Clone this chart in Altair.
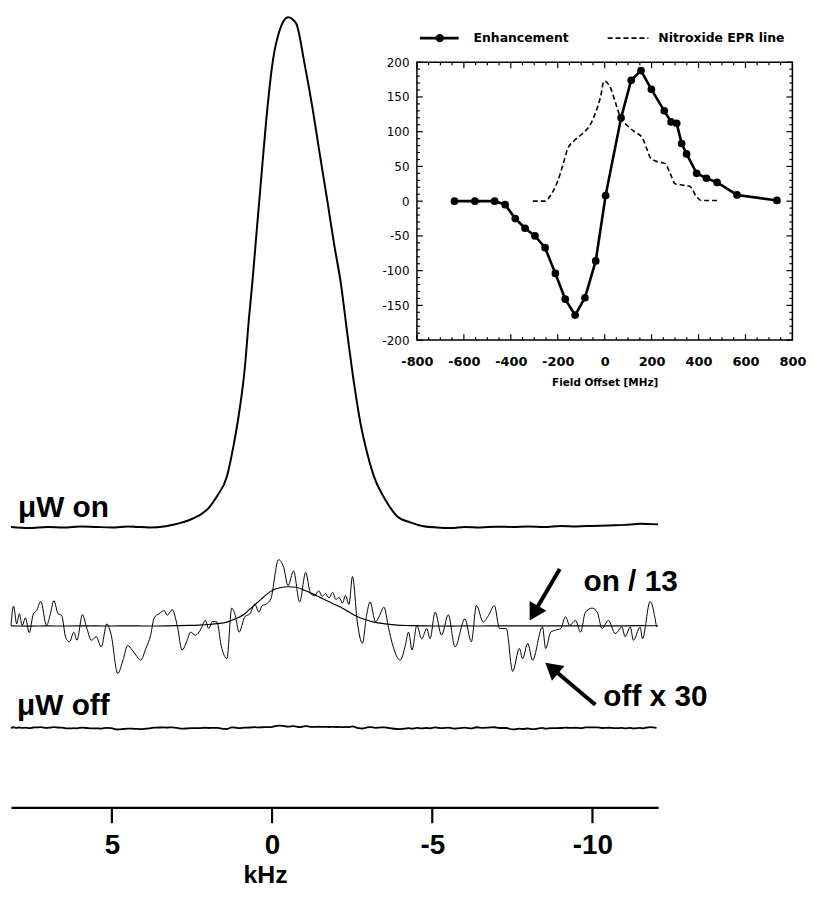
import altair as alt
import pandas as pd

# ---------------- data ----------------
# main spectrum (microwave on), frequency in kHz, intensity with peak = 100
on_khz = [8.15, 7.6, 7.0, 6.5, 6.0, 5.5, 5.0, 4.5, 4.2, 3.84, 3.32, 2.91, 2.60, 2.29,
          1.98, 1.72, 1.41, 1.21, 1.05, 0.85, 0.72, 0.62, 0.49, 0.33, 0.18, -0.03,
          -0.24, -0.50, -0.75, -1.01, -1.27, -1.48, -1.73, -1.94, -2.15, -2.35, -2.56,
          -2.76, -2.92, -3.18, -3.54, -3.90, -4.31, -4.73, -5.14, -5.6, -6.0, -6.5,
          -7.0, -7.5, -8.0, -8.5, -9.0, -9.5, -10.0, -10.5, -11.0, -11.5, -12.05]
on_int = [0.1, -0.1, 0.1, 0.0, 0.2, 0.1, 0.0, 0.2, 0.1, 0.0, 0.25, 0.8, 1.4, 2.3,
          3.8, 6.1, 10.0, 15.8, 21.6, 31.3, 41.1, 47.7, 57.4, 69.1, 80.0, 91.7,
          97.5, 100.0, 98.8, 91.0, 81.9, 73.5, 63.8, 55.4, 47.7, 37.9, 28.2,
          20.4, 15.8, 10.0, 5.4, 2.2, 1.0, 0.25, 0.0, -0.1, 0.1, 0.0,
          0.15, 0.1, 0.2, 0.1, 0.3, 0.2, 0.3, 0.4, 0.5, 0.7, 0.6]

# microwave-off spectrum multiplied by 30 (same intensity units)
off30_khz = [8.15, 8.07, 7.97, 7.89, 7.80, 7.70, 7.58, 7.45, 7.35, 7.22, 7.04, 6.93, 6.81,
             6.68, 6.57, 6.44, 6.32, 6.19, 6.09, 5.92, 5.78, 5.64, 5.49, 5.33, 5.16, 5.02,
             4.82, 4.64, 4.51, 4.37, 4.25, 4.10, 3.94, 3.79, 3.68, 3.53, 3.37, 3.27, 3.12,
             2.96, 2.81, 2.65, 2.55, 2.39, 2.24, 2.08, 1.98, 1.86, 1.72, 1.59, 1.41, 1.26,
             1.15, 1.03, 0.85, 0.69, 0.54, 0.41, 0.31, 0.18, 0.04, -0.20, -0.36, -0.50,
             -0.67, -0.86, -1.05, -1.19, -1.32, -1.46, -1.56, -1.67, -1.78, -1.89, -1.99,
             -2.09, -2.20, -2.29, -2.40, -2.51, -2.66, -2.82, -2.95, -3.06, -3.23, -3.34,
             -3.49, -3.64, -3.75, -4.00, -4.16, -4.26, -4.37, -4.52, -4.67, -4.83, -4.93,
             -5.09, -5.29, -5.50, -5.71, -6.02, -6.22, -6.38, -6.59, -6.75, -6.94, -7.10,
             -7.31, -7.51, -7.72, -7.82, -7.98, -8.13, -8.44, -8.54, -8.70, -8.85, -9.01,
             -9.16, -9.29, -9.47, -9.63, -9.78, -9.99, -10.15, -10.30, -10.50, -10.71,
             -10.92, -11.02, -11.18, -11.28, -11.49, -11.56, -11.80, -12.00]
off30_val = [0.1, 3.9, 0.4, 2.4, 0.1, 1.6, -1.3, 2.4, 3.0, 4.8, 0.1, 2.1, 5.0,
             2.4, 2.1, -2.3, -3.1, -1.2, -2.8, 2.2, -0.5, -2.8, -2.1, -4.1, 0.4, -1.8,
             -9.3, -6.4, -3.8, -4.7, -5.7, -6.7, -4.4, -1.8, 1.6, 2.4, 3.0, 2.1, 3.2,
             0.1, -4.7, -2.8, -1.2, -1.8, -0.8, 1.1, -0.5, 0.9, 0.8, -3.8, -6.4, 3.5,
             2.1, -1.2, 1.8, 2.4, 4.3, 2.7, 4.0, 4.3, 5.3, 13.0, 11.5, 7.9,
             10.8, 4.7, 10.5, 6.6, 5.9, 6.9, 5.8, 6.3, 5.5, 6.6, 5.2,
             5.6, 4.5, 6.0, 4.2, 9.7, 0.8, -3.4, 2.1, 4.7, 0.8, 1.8,
             3.7, -0.5, -3.4, -6.7, -3.8, -1.2, -4.7, 0.1, -2.5, -0.5, -2.5,
             2.7, -1.8, 2.2, -4.1, 1.4, -3.1, 4.0, 0.8, 2.0, 4.0, -0.5,
             -0.5, -8.9, -4.4, -6.4, -3.4, -6.7, -0.2, -4.4, -1.2, -0.8, -0.5,
             1.8, 0.1, 1.1, -1.2, 2.7, 3.5, 2.7, -0.5, 1.1, -1.5,
             -0.2, -2.1, -0.2, -2.8, -0.2, -2.5, 4.8, -0.2]

khz_ticks = [5, 0, -5, -10]

# inset: DNP enhancement vs. field offset, and nitroxide EPR line
enh_mhz = [-640, -553, -469, -424, -381, -339, -297, -254, -210, -168, -126, -84, -38, 4,
           70, 113, 155, 199, 254, 283, 307, 328, 349, 392, 434, 479, 564, 734]
enh_val = [0, 0, 0, -5, -25, -39, -50, -67, -104, -141, -164, -139, -86, 8,
           120, 174, 188, 161, 130, 114, 112, 83, 68, 40, 33, 27, 9, 1]
epr_mhz = [-306, -254, -229, -201, -179, -158, -130, -95, -60, -38, -17, -3, 25, 46, 68,
           96, 131, 159, 180, 194, 223, 258, 279, 300, 336, 364, 392, 413, 484]
epr_val = [0, 0, 9, 28, 51, 75, 87, 97, 111, 128, 151, 173, 163, 142, 120,
           109, 99, 92, 75, 63, 57, 54, 40, 25, 23, 21, 6, 1, 1]
mhz_ticks = [-800, -600, -400, -200, 0, 200, 400, 600, 800]
val_ticks = [-200, -150, -100, -50, 0, 50, 100, 150, 200]
legend_names = ["Enhancement", "Nitroxide EPR line"]
trace_labels = ["\u03bcW on", "\u03bcW off", "on / 13", "off x 30"]

# ---------------- layout (not data) ----------------
W, H = 652, 802
PX = 5.14                      # px per intensity unit
Y_MAX = H / PX
BASE_ON, BASE_MID, BASE_OFF = 54.86, 35.54, 15.56
TICK_LEN = 16 / PX
INSET_XR = [409, 787.3]
INSET_YR = [331.3, 51.3]
PXY_IN = (INSET_YR[0] - INSET_YR[1]) / 400.0
PXX_IN = (INSET_XR[1] - INSET_XR[0]) / 1600.0
FONT = "Liberation Sans"
DV = "DejaVu Sans"

# ---------------- tables ----------------
on_df = pd.DataFrame({"khz": on_khz, "y": [BASE_ON + v for v in on_int]})
on13_df = pd.DataFrame({"khz": on_khz, "y": [BASE_MID + v / 13.0 for v in on_int]})
off30_df = pd.DataFrame({"khz": off30_khz, "y": [BASE_MID + v for v in off30_val]})
off_df = pd.DataFrame({"khz": off30_khz, "y": [BASE_OFF + v / 30.0 for v in off30_val]})
tick_df = pd.DataFrame({"khz": khz_ticks, "y": [0.0] * len(khz_ticks),
                        "y2": [-TICK_LEN] * len(khz_ticks)})

text_df = pd.DataFrame({
    "label": trace_labels,
    "khz": [7.93, 7.96, -9.72, -10.34],
    "y": [57.0, 18.09, 42.41, 19.84],
})
arrow_df = pd.DataFrame({
    "khz": [-8.98, -10.09], "y": [46.7, 20.1],
    "khz2": [-8.17, -8.73], "y2": [38.05, 27.3],
    "angle": [210, 310],
})

XS = alt.Scale(domain=[8.15, -12.05], nice=False, zero=False)
YS = alt.Scale(domain=[0, Y_MAX], nice=False, zero=False)
XA = alt.Axis(values=khz_ticks, title="kHz", grid=False, domain=True, domainColor="black",
              domainWidth=2.2, ticks=False, labelFont=FONT, labelFontSize=28,
              labelFontWeight="bold", labelColor="black", labelPadding=47,
              labelBaseline="alphabetic", labelFlush=False, labelOverlap=False,
              labelExpr="'' + datum.value",
              titleFont=FONT, titleFontSize=25, titleFontWeight="bold", titleColor="black",
              titleX=256, titleY=76, titleBaseline="alphabetic")


def main_xy(c, xf="khz", yf="y"):
    return c.encode(x=alt.X(xf, type="quantitative", scale=XS, axis=XA),
                    y=alt.Y(yf, type="quantitative", scale=YS, axis=None))


on_line = main_xy(alt.Chart(on_df).mark_line(color="black", strokeWidth=2, interpolate="monotone"))
on13_line = main_xy(alt.Chart(on13_df).mark_line(color="black", strokeWidth=1.2, interpolate="monotone"))
off30_line = main_xy(alt.Chart(off30_df).mark_line(color="black", strokeWidth=1, interpolate="monotone"))
off_line = main_xy(alt.Chart(off_df).mark_line(color="black", strokeWidth=1.8, interpolate="monotone"))
axis_ticks = main_xy(alt.Chart(tick_df).mark_rule(color="black", strokeWidth=2.2)).encode(y2="y2:Q")
texts = main_xy(alt.Chart(text_df).mark_text(font=FONT, fontSize=30, fontWeight="bold", align="left",
                                              baseline="alphabetic", color="black")).encode(text="label:N")
shafts = alt.Chart(arrow_df).mark_rule(color="black", strokeWidth=4).encode(
    x=alt.X("khz:Q", scale=XS, axis=XA), y=alt.Y("y:Q", scale=YS, axis=None), x2="khz2:Q", y2="y2:Q")
heads = alt.Chart(arrow_df).mark_point(shape="triangle-up", filled=True, size=380, color="black",
                                       opacity=1).encode(
    x=alt.X("khz2:Q", scale=XS, axis=XA), y=alt.Y("y2:Q", scale=YS, axis=None),
    angle=alt.Angle("angle:Q", scale=None))

main = alt.layer(on_line, on13_line, off30_line, off_line, axis_ticks, texts, shafts, heads)

# ---------------- inset ----------------
IXS = alt.Scale(domain=[-800, 800], range=INSET_XR, nice=False, zero=False)
IYS = alt.Scale(domain=[-200, 200], range=INSET_YR, nice=False, zero=False)
IXA = alt.Axis(orient="bottom", offset=-(H - INSET_YR[0]), values=mhz_ticks, ticks=False, domain=False,
               grid=False, labelFont=DV, labelFontSize=13, labelFontWeight="bold", labelColor="black",
               labelPadding=26, labelBaseline="alphabetic", labelFlush=False, labelOverlap=False,
               labelExpr="'' + datum.value",
               title="Field Offset [MHz]", titleFont=DV, titleFontSize=10.5, titleFontWeight="bold",
               titleColor="black", titleY=46, titleBaseline="alphabetic")
IYA = alt.Axis(orient="left", offset=-INSET_XR[0], values=val_ticks, ticks=False, domain=False,
               grid=False, labelFont=DV, labelFontSize=12, labelColor="black", labelPadding=8,
               labelFlush=False, labelOverlap=False, labelExpr="'' + datum.value", title=None)


def inset_xy(c, xf="mhz", yf="val"):
    return c.encode(x=alt.X(xf, type="quantitative", scale=IXS, axis=IXA),
                    y=alt.Y(yf, type="quantitative", scale=IYS, axis=IYA))


enh_df = pd.DataFrame({"mhz": enh_mhz, "val": enh_val})
epr_df = pd.DataFrame({"mhz": epr_mhz, "val": epr_val})

frame_df = pd.DataFrame({"mhz": [-800], "mhz2": [800], "val": [-200], "val2": [200]})
tick_rows = []
for v in range(-800, 801, 50):
    ln = (6.0 if v % 200 == 0 else 3.0) / PXY_IN
    tick_rows.append({"mhz": v, "mhz2": v, "val": -200, "val2": -200 + ln})
    tick_rows.append({"mhz": v, "mhz2": v, "val": 200, "val2": 200 - ln})
for v in range(-200, 201, 10):
    ln = (6.0 if v % 50 == 0 else 3.0) / PXX_IN
    tick_rows.append({"mhz": -800, "mhz2": -800 + ln, "val": v, "val2": v})
    tick_rows.append({"mhz": 800, "mhz2": 800 - ln, "val": v, "val2": v})
ticks_df = pd.DataFrame(tick_rows)

frame = inset_xy(alt.Chart(frame_df).mark_rect(fillOpacity=0, stroke="black", strokeWidth=1.5)).encode(
    x2="mhz2:Q", y2="val2:Q")
tick_marks = inset_xy(alt.Chart(ticks_df).mark_rule(color="black", strokeWidth=1.2)).encode(
    x2="mhz2:Q", y2="val2:Q")
epr_line = inset_xy(alt.Chart(epr_df).mark_line(color="black", strokeWidth=1.6, strokeDash=[5, 3],
                                                interpolate="monotone"))
enh_line = inset_xy(alt.Chart(enh_df).mark_line(color="black", strokeWidth=2.6))
enh_pts = inset_xy(alt.Chart(enh_df).mark_point(filled=True, size=60, color="black", opacity=1))

# legend (drawn above the inset frame)
LEG_Y = -200 + (INSET_YR[0] - 27) / PXY_IN
leg_line_df = pd.DataFrame({"mhz": [-787.3, 12.7], "mhz2": [-622.2, 186.3], "val": [LEG_Y, LEG_Y]})
leg_solid = inset_xy(alt.Chart(leg_line_df.iloc[[0]]).mark_rule(color="black", strokeWidth=2.6)).encode(
    x2="mhz2:Q")
leg_dash = inset_xy(alt.Chart(leg_line_df.iloc[[1]]).mark_rule(color="black", strokeWidth=1.6,
                                                              strokeDash=[5, 3])).encode(x2="mhz2:Q")
leg_dot = inset_xy(alt.Chart(pd.DataFrame({"mhz": [-702.6], "val": [LEG_Y]})).mark_point(
    filled=True, size=70, color="black", opacity=1))
leg_text = inset_xy(alt.Chart(pd.DataFrame({"mhz": [-558.7, 228.6], "val": [LEG_Y, LEG_Y],
                                            "label": legend_names})).mark_text(
    font=DV, fontSize=12.5, fontWeight="bold", align="left", baseline="middle", color="black")).encode(
    text="label:N")

inset = alt.layer(frame, tick_marks, epr_line, enh_line, enh_pts, leg_solid, leg_dash, leg_dot, leg_text)

chart = alt.layer(main, inset).resolve_scale(x="independent", y="independent").properties(
    width=W, height=H, autosize="none", background="white",
    padding={"left": 3, "top": 0, "right": 149, "bottom": 80},
).configure_view(strokeWidth=0, stroke=None, fill="white")

chart.save("out.html", embed_options={"renderer": "svg", "actions": False})
